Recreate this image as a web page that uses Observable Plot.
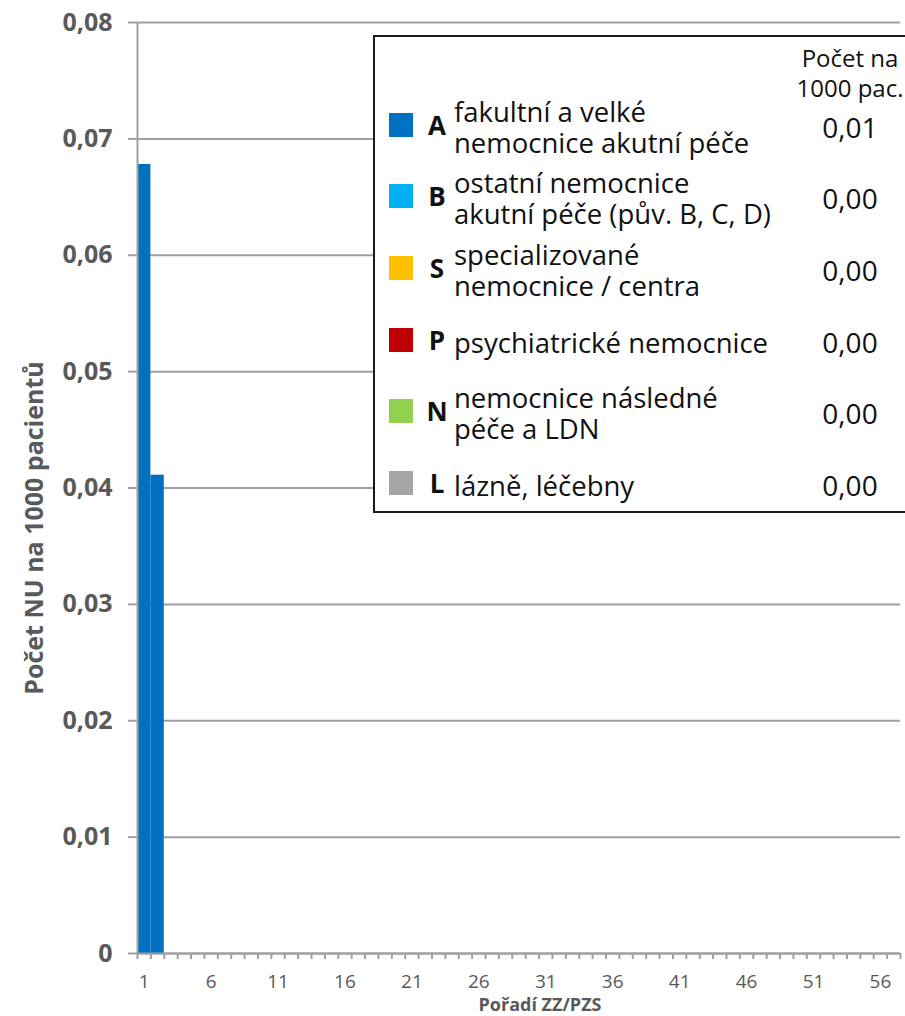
<!DOCTYPE html>
<html>
<head>
<meta charset="utf-8">
<script src="https://cdn.jsdelivr.net/npm/d3@7"></script>
<script src="https://cdn.jsdelivr.net/npm/@observablehq/plot@0.6"></script>
<style>
  html, body { margin: 0; padding: 0; background: #fff; overflow: hidden; }
  #wrap { position: relative; width: 905px; height: 1016px; font-family: "Open Sans", sans-serif; }
  #ytitle { position: absolute; left: 33px; top: 528px; transform: translate(-50%, -50%) rotate(-90deg);
    white-space: nowrap; font-weight: bold; font-size: 25px; color: #595959; }
  #xtitle { position: absolute; left: 540px; top: 1004px; transform: translate(-50%, -50%);
    white-space: nowrap; font-weight: bold; font-size: 18px; line-height: 20px; color: #595959; }
  #legend { position: absolute; left: 373px; top: 35px; width: 560px; height: 474px;
    border: 2px solid #1a1a1a; background: #fff; box-sizing: content-box; color: #111; }
  .hdr { position: absolute; left: 400px; width: 150px; text-align: center; font-size: 24px; line-height: 30px; }
  .row { position: absolute; left: 0; width: 560px; height: 72px; }
  .sw { position: absolute; left: 14px; top: 24px; width: 24px; height: 24px; }
  .code { position: absolute; left: 47px; width: 30px; text-align: center; top: 0; line-height: 72px; font-weight: bold; font-size: 26px; }
  .lab { position: absolute; left: 79px; top: 0; height: 72px; display: flex; align-items: center; }
  .lab span { font-size: 27.5px; line-height: 31px; white-space: pre; transform: translateY(2px); }
  .val { position: absolute; left: 400px; width: 150px; text-align: center; line-height: 72px; font-size: 28px; top: 2px; }
</style>
</head>
<body>
<div id="wrap"></div>
<script>
// ---- data ----
const categoryCount = 57;                // Pořadí ZZ/PZS 1..57
const barRanks = [1, 2];
const barValues = [0.0678, 0.0411];
const barGroups = ["A", "A"];
const yTicks = [0, 0.01, 0.02, 0.03, 0.04, 0.05, 0.06, 0.07, 0.08];
const xLabelTicks = [1, 6, 11, 16, 21, 26, 31, 36, 41, 46, 51, 56];

const legendCodes = ["A", "B", "S", "P", "N", "L"];
const legendLabels = [
  "fakultní a velké\nnemocnice akutní péče",
  "ostatní nemocnice\nakutní péče (pův. B, C, D)",
  "specializované\nnemocnice / centra",
  "psychiatrické nemocnice",
  "nemocnice následné\npéče a LDN",
  "lázně, léčebny"
];
const legendColors = ["#0070C0", "#00B0F0", "#FFC000", "#C00000", "#92D050", "#A5A5A5"];
const legendValues = ["0,01", "0,00", "0,00", "0,00", "0,00", "0,00"];

const yTitle = "Počet NU na 1000 pacientů";
const xTitle = "Pořadí ZZ/PZS";
const legendHeader = ["Počet na", "1000 pac."];

// ---- build ----
const bars = barRanks.map((r, i) => ({rank: r, value: barValues[i], group: barGroups[i]}));
const boundaries = d3.range(0, categoryCount + 1).map(i => i + 0.5);
const colorOf = Object.fromEntries(legendCodes.map((c, i) => [c, legendColors[i]]));
const fmt = d => d === 0 ? "0" : d.toFixed(2).replace(".", ",");

const chart = Plot.plot({
  width: 905,
  height: 1016,
  marginLeft: 137,
  marginRight: 5,
  marginTop: 22,
  marginBottom: 63,
  style: {fontFamily: "Open Sans, sans-serif", background: "#fff"},
  x: {type: "linear", domain: [0.5, categoryCount + 0.5]},
  y: {domain: [0, 0.08]},
  marks: [
    Plot.gridY(yTicks, {stroke: "#A0A0A0", strokeOpacity: 1, strokeWidth: 2}),
    Plot.axisY(yTicks, {tickSize: 9, tickPadding: 16, tickFormat: fmt, label: null,
      stroke: "#A0A0A0", strokeWidth: 2, fill: "#595959", fontSize: 25, fontWeight: "bold"}),
    Plot.rectY(bars, {x1: d => d.rank - 0.5, x2: d => d.rank + 0.5, y: "value",
      fill: d => colorOf[d.group]}),
    Plot.ruleX([0.5], {stroke: "#A0A0A0", strokeWidth: 2}),
    Plot.ruleY([0], {stroke: "#A0A0A0", strokeWidth: 2}),
    Plot.axisX(boundaries, {tickSize: 6, tickFormat: () => "", label: null, stroke: "#A0A0A0", strokeWidth: 2}),
    Plot.axisX(xLabelTicks, {tickSize: 0, tickPadding: 21, label: null, fill: "#595959", fontSize: 19})
  ]
});

const wrap = document.getElementById("wrap");
wrap.appendChild(chart);

const yt = document.createElement("div"); yt.id = "ytitle"; yt.textContent = yTitle; wrap.appendChild(yt);
const xt = document.createElement("div"); xt.id = "xtitle"; xt.textContent = xTitle; wrap.appendChild(xt);

const lg = document.createElement("div"); lg.id = "legend"; wrap.appendChild(lg);
legendHeader.forEach((t, i) => {
  const h = document.createElement("div"); h.className = "hdr"; h.textContent = t;
  h.style.top = (6 + i * 30) + "px"; lg.appendChild(h);
});
const rowCenters = [125, 196, 268, 340, 411, 483];
legendCodes.forEach((c, i) => {
  const row = document.createElement("div"); row.className = "row";
  row.style.top = (rowCenters[i] - 37 - 36) + "px";
  const sw = document.createElement("div"); sw.className = "sw"; sw.style.background = legendColors[i];
  const cd = document.createElement("div"); cd.className = "code"; cd.textContent = c;
  const lb = document.createElement("div"); lb.className = "lab";
  const sp = document.createElement("span"); sp.textContent = legendLabels[i]; lb.appendChild(sp);
  const vl = document.createElement("div"); vl.className = "val"; vl.textContent = legendValues[i];
  row.append(sw, cd, lb, vl);
  lg.appendChild(row);
});
</script>
</body>
</html>
